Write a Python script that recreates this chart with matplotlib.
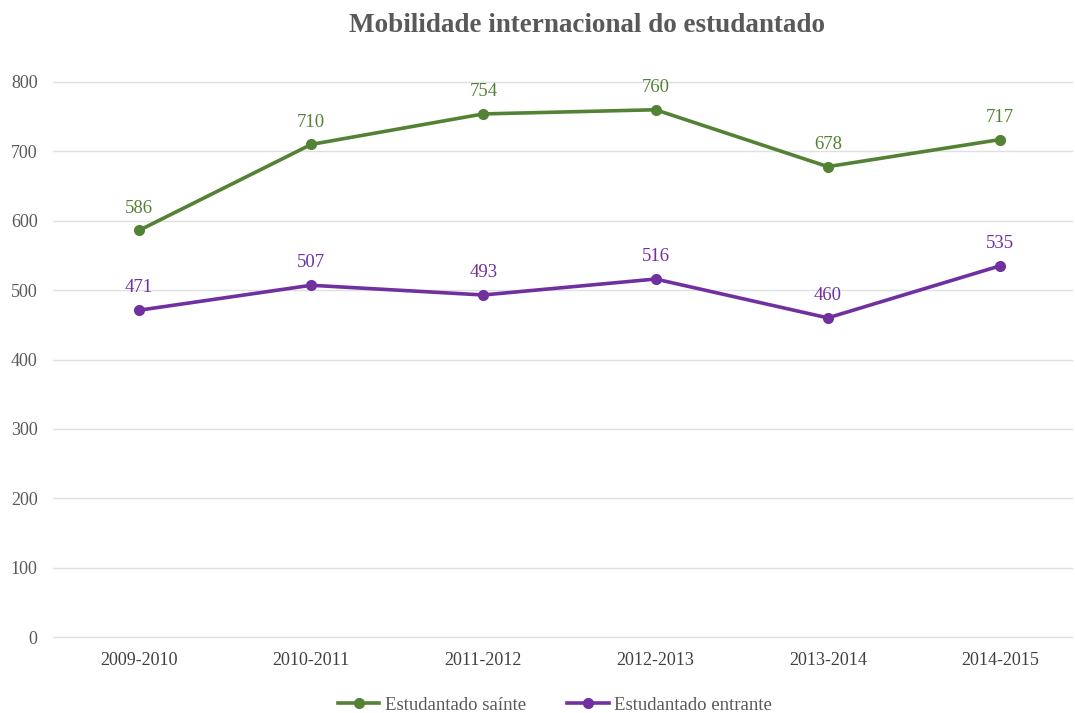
import matplotlib
matplotlib.use("Agg")
from matplotlib import pyplot as plt
import numpy as np

years = ["2009-2010", "2010-2011", "2011-2012", "2012-2013", "2013-2014", "2014-2015"]
sainte = [586, 710, 754, 760, 678, 717]
entrante = [471, 507, 493, 516, 460, 535]

green = "#548235"
purple = "#7030A0"
gray = "#595959"

plt.rcParams['font.family'] = ['Liberation Serif', 'DejaVu Serif']

fig = plt.figure(figsize=(10.75, 7.13), dpi=100)
ax = fig.add_axes([53/1075, 1-637/713, (1072-53)/1075, (637-82)/713])

x = np.arange(len(years))
ax.plot(x, sainte, color=green, lw=2.6, marker='o', ms=7, label="Estudantado saínte", zorder=3)
ax.plot(x, entrante, color=purple, lw=2.6, marker='o', ms=7, label="Estudantado entrante", zorder=3)

for xi, v in zip(x, sainte):
    ax.annotate(str(v), (xi, v), xytext=(0, 10), textcoords='offset points',
                ha='center', va='bottom', color=green, fontsize=13.5)
for xi, v in zip(x, entrante):
    ax.annotate(str(v), (xi, v), xytext=(0, 10), textcoords='offset points',
                ha='center', va='bottom', color=purple, fontsize=13.5)

ax.set_ylim(0, 800)
ax.set_yticks(range(0, 801, 100))
ax.set_xlim(-0.499, 5.418)
ax.set_xticks(x)
ax.set_xticklabels(years, fontsize=13, color="#404040")
for lbl in ax.get_yticklabels():
    lbl.set_color(gray)
    lbl.set_fontsize(13)
ax.grid(axis='y', color='#e0e0e0', lw=1)
for gl in ax.get_ygridlines():
    gl.set_clip_on(False)
ax.set_axisbelow(True)
for s in ax.spines.values():
    s.set_visible(False)
ax.tick_params(axis='x', length=0, pad=11)
ax.tick_params(axis='y', length=0, pad=11)

fig.text(587/1075, 1-25/713, "Mobilidade internacional do estudantado", ha='center', va='center',
         fontsize=19.5, fontweight='bold', color=gray)

fig.legend(loc='center', bbox_to_anchor=(555/1075, 1-705/713), ncol=2, frameon=False,
           fontsize=13.5, labelcolor=gray, handlelength=2.2, handletextpad=0.3, columnspacing=2.2)

fig.savefig("out.png", dpi=100)
